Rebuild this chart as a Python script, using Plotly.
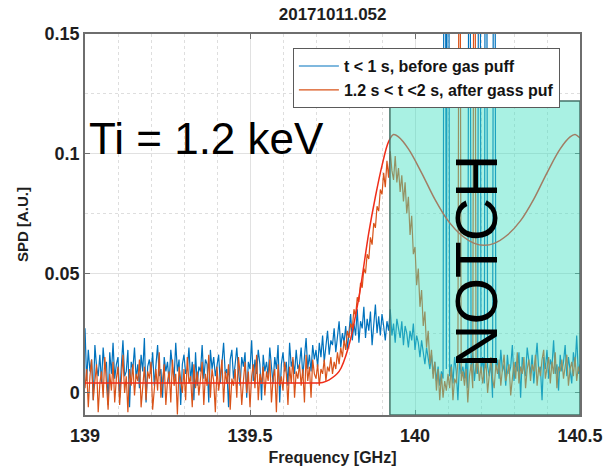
import numpy as np
import plotly.graph_objects as go

# ---- data (values in units of 1e-3 A.U.) ----
f_start = 139.0
f_step = 0.005

blue_milli = [
    27, 5, 18, 9, 14, -3, 20, 11, 7, 16,
    4, 19, 10, 13, -5, 17, 8, 21, 6, 12,
    15, -2, 11, 22, 7, 9, 18, -6, 13, 10,
    19, 6, 12, 2, 16, 9, 23, -4, 11, 14,
    8, 17, 3, 12, 20, 7, 10, -2, 15, 9,
    13, 4, 18, 11, 6, 21, 9, 14, -5, 12,
    16, 8, 10, 19, 5, 13, -3, 17, 3, 11,
    9, 20, 6, 14, 12, -4, 18, 10, 15, 7,
    11, 16, 4, 13, 21, 8, 10, -6, 14, 18,
    6, 12, 19, 9, 3, 15, 11, 17, -2, 13,
    10, 22, 5, 14, 8, 18, 12, -3, 16, 9,
    13, 7, 19, 11, 4, 15, 10, 20, -4, 12,
    17, 9, 13, 3, 21, 11, 14, 8, 18, 10,
    12, 19, 7, 15, 23, 10, 16, 9, 20, 14,
    18, 11, 21, 15, 24, 13, 19, 26, 16, 22,
    20, 27, 17, 23, 30, 19, 25, 21, 28, 18,
    26, 33, 22, 29, 24, 35, 21, 30, 27, 36,
    23, 31, 26, 34, 20, 29, 37, 25, 32, 24,
    33, 28, 22, 30, 26, 35, 24, 29, 21, 31,
    27, 23, 30, 20, 28, 25, 19, 26, 22, 29,
    18, 24, 21, 15, 22, 17, 12, 19, 14, 10,
    16, 8, 13, 5, 11, 3, 9, 6, 380, 10,
    400, 7, 12, 4, 15, 9, -3, 13, 8, 11,
    6, 14, 2, 350, 10, 17, 5, 12, 8, 420,
    9, 15, 4, 380, 11, 7, 13, -2, 390, 10,
    14, 6, 18, 9, 12, 3, 16, 8, 11, 20,
    5, 13, 9, 17, -2, 15, 10, 7, 19, 12,
    8, 16, 4, 13, 21, 9, 11, -3, 15, 10,
    18, 6, 14, 11, 22, 8, 12, 1, 16, 9,
    13, 20, 7, 15, 10, 4, 17, 11, 24, 8,
    12,
]

orange_milli = [
    2, 10, -6, 7, 14, -3, 5, 12, -8, 4,
    9, -2, 15, 3, -7, 8, 1, 13, -4, 6,
    11, -5, 4, 16, 0, 7, -8, 10, 3, 12,
    -1, 8, 5, 14, -6, 2, 11, -3, 9, 6,
    13, -7, 4, 10, 1, 17, -2, 7, 12, -5,
    5, 9, -4, 14, 3, 8, -9, 11, 6, 0,
    10, -3, 15, 4, 7, -6, 12, 2, 9, -1,
    6, 13, -5, 8, 3, 16, -2, 10, 5, -8,
    11, 1, 7, 14, -4, 9, 4, 12, -7, 6,
    3, 10, -2, 15, 8, -5, 5, 13, 0, 9,
    -6, 7, 12, 2, 16, -3, 8, 4, 11, -1,
    9, 5, 14, -4, 6, 10, -8, 12, 3, 7,
    1, 13, 8, -5, 11, 4, 15, -2, 9, 6,
    12, 3, 10, -4, 16, 5, 11, -2, 14, 8,
    6, 12, 3, 10, 8, 14, 5, 11, 9, 15,
    8, 13, 10, 17, 12, 19, 15, 22, 18, 26,
    23, 29, 27, 35, 32, 40, 38, 46, 44, 52,
    50, 58, 56, 65, 62, 71, 69, 78, 76, 85,
    83, 92, 86, 97, 90, 101, 93, 89, 99, 88,
    94, 84, 91, 80, 88, 75, 82, 66, 74, 58,
    61, 45, 52, 36, 43, 28, 34, 19, 26, 12,
    18, 6, 13, 1, 10, -3, 8, -2, 5, 1,
    8, 2, 11, -3, 6, 4, 13, 300, 5, 9,
    3, 10, -4, 7, 12, 2, 330, 8, 14, 5,
    11, 4, 9, 13, 0, 7, 15, 6, 2, 12,
    8, 14, 3, 10, 16, 5, 9, 12, -1, 7,
    13, 6, 17, 4, 11, 8, 15, 2, 10, 14,
    5, 12, 9, 16, 3, 11, 7, 14, 18, 6,
    10, 15, 4, 13, 8, 17, 2, 11, 9, 14,
    6, 12, 16, 3, 10, 13, 7, 15, 5, 11,
    8,
]

fit_freq = [139.0, 139.3, 139.6, 139.7, 139.72, 139.74, 139.77, 139.8, 139.83,
            139.86, 139.88, 139.9, 139.92, 139.935, 139.95, 139.98, 140.02,
            140.06, 140.1, 140.14, 140.18, 140.21, 140.24, 140.28, 140.32,
            140.36, 140.4, 140.44, 140.47, 140.485, 140.5]
fit_milli = [4.2, 4.2, 4.2, 4.2, 4.4, 5.5, 9, 20, 40, 67, 82, 95, 105, 108, 107,
             102, 92, 81, 72, 66, 62.5, 61.7, 62.5, 66, 72, 81, 92, 102, 107,
             108, 106.5]

legend_names = ["t < 1 s, before gas puff", "1.2 s < t <2 s, after gass puf"]
x_ticks = [139, 139.5, 140, 140.5]
x_ticktext = ["139", "139.5", "140", "140.5"]
y_ticks = [0, 0.05, 0.1, 0.15]
y_ticktext = ["0", "0.05", "0.1", "0.15"]
notch_range = [139.924, 140.5]
notch_top = 0.122
title_text = "20171011.052"
ti_text = "Ti = 1.2 keV"

# ---- build ----
n = len(blue_milli)
freq = np.round(f_start + f_step * np.arange(n), 4)
blue = np.array(blue_milli) / 1000.0
orange = np.array(orange_milli) / 1000.0
fit = np.array(fit_milli) / 1000.0

FONT = "Liberation Sans, Arial, Helvetica, sans-serif"
BLUE = "rgb(0,114,189)"
ORANGE = "rgb(217,83,25)"
TXT = "rgb(30,30,30)"
YMIN, YMAX = -0.0092, 0.15

fig = go.Figure()
fig.add_trace(go.Scatter(x=freq, y=blue, mode="lines", name=legend_names[0],
                         line=dict(color=BLUE, width=1.2)))
fig.add_trace(go.Scatter(x=freq, y=orange, mode="lines", name=legend_names[1],
                         line=dict(color=ORANGE, width=1.2)))
fig.add_trace(go.Scatter(x=fit_freq, y=fit, mode="lines", showlegend=False,
                         line=dict(color="rgb(240,45,25)", width=1.5, shape="spline")))

fig.add_shape(type="rect", xref="x", yref="y", x0=notch_range[0], x1=notch_range[1],
              y0=YMIN, y1=notch_top, layer="above",
              fillcolor="rgba(64,224,192,0.45)",
              line=dict(color="rgb(70,115,105)", width=1.5))

fig.add_annotation(text=ti_text, xref="paper", yref="paper", x=0.004, y=0.725,
                   xanchor="left", yanchor="middle", showarrow=False,
                   font=dict(family=FONT, size=44, color="black"))
fig.add_annotation(text="NOTCH", xref="paper", yref="paper", x=0.792, y=0.402,
                   xanchor="center", yanchor="middle", textangle=-90, showarrow=False,
                   font=dict(family=FONT, size=60, color="black"))

axis_common = dict(showline=True, linecolor="rgb(110,110,110)", linewidth=1.5,
                   mirror="ticks", ticks="inside", ticklen=5, tickcolor="rgb(110,110,110)",
                   showgrid=True, gridcolor="rgb(225,225,225)", gridwidth=1,
                   zeroline=False, automargin=False,
                   tickfont=dict(family=FONT, size=18, color=TXT, weight="bold"))

fig.update_xaxes(range=[139, 140.5], tickvals=x_ticks, ticktext=x_ticktext,
                 ticklabelstandoff=4,
                 title=dict(text="Frequency [GHz]", standoff=6,
                            font=dict(family=FONT, size=16, color=TXT, weight="bold")),
                 minor=dict(dtick=0.1, showgrid=True, gridcolor="rgb(222,222,222)",
                            griddash="dot", ticks=""),
                 **axis_common)
fig.update_yaxes(range=[YMIN, YMAX], tickvals=y_ticks, ticktext=y_ticktext,
                 title=dict(text="SPD [A.U.]", standoff=12,
                            font=dict(family=FONT, size=15, color=TXT, weight="bold")),
                 minor=dict(dtick=0.025, tick0=0, showgrid=True, gridcolor="rgb(222,222,222)",
                            griddash="dot", ticks=""),
                 **axis_common)

fig.update_layout(
    width=616, height=468,
    margin=dict(l=85, r=36, t=34, b=53, autoexpand=False),
    paper_bgcolor="white", plot_bgcolor="white",
    title=dict(text=title_text, x=0.54, xanchor="center", y=0.97, yanchor="middle",
               font=dict(family=FONT, size=17, color=TXT, weight="bold")),
    legend=dict(x=0.42, y=0.963, xanchor="left", yanchor="top",
                bgcolor="white", bordercolor="rgb(90,90,90)", borderwidth=1,
                font=dict(family=FONT, size=16, color="rgb(20,20,20)", weight="bold"),
                tracegroupgap=0, itemwidth=40),
    font=dict(family=FONT),
    showlegend=True,
)

fig.write_html("out.html")
